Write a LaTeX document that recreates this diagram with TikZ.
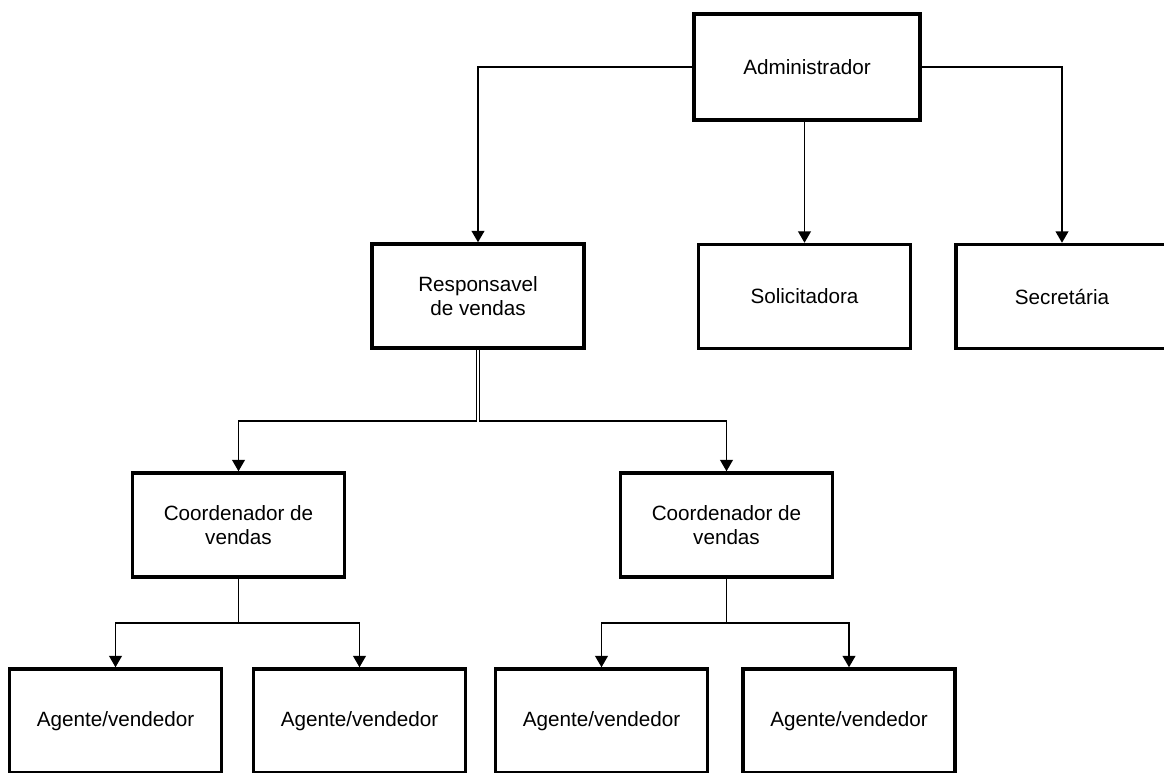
\documentclass[tikz,border=0pt]{standalone}
\usepackage{fontspec}
\setmainfont{Liberation Sans}
\usepackage{tikz}
\usetikzlibrary{arrows.meta}

\begin{document}
\begin{tikzpicture}[x=0.75pt,y=0.75pt,yscale=-1,xscale=1,
  box/.style={draw, line width=2.6pt, rectangle, minimum width=159pt, minimum height=78pt,
    inner sep=0.75pt, align=center, font=\fontsize{15.5pt}{17.5pt}\selectfont},
  link/.style={line width=1.2pt, -{Triangle[length=8.5pt,width=9.5pt]}},
  line/.style={line width=1.2pt}]
%set diagram frame: 1164 x 772
\useasboundingbox (0,0) rectangle (1164,772);
\clip (0,0) rectangle (1164,772);

% Text Node
\draw (807,67) node [box, minimum width=169.5pt, minimum height=79.5pt] (adm) {Administrador};
% Text Node
\draw (478,296) node [box] (resp) {Responsavel\\de vendas};
% Text Node
\draw (804.5,296.5) node [box] (sol) {Solicitadora};
% Text Node
\draw (1062,296.5) node [box] (sec) {Secretária};
% Text Node
\draw (238.5,525) node [box] (crdA) {Coordenador de\\vendas};
% Text Node
\draw (726.5,525) node [box] (crdB) {Coordenador de\\vendas};
% Text Node
\draw (115.5,721) node [box] (agA) {Agente/vendedor};
% Text Node
\draw (359.5,721) node [box] (agB) {Agente/vendedor};
% Text Node
\draw (601.5,721) node [box] (agC) {Agente/vendedor};
% Text Node
\draw (849,721) node [box] (agD) {Agente/vendedor};

%Straight Lines
\coordinate (forkL) at (476.5,421);
\coordinate (forkR) at (479.5,421);
\coordinate (forkA) at (238.5,623);
\coordinate (forkB) at (726.5,623);

%Straight Lines
\draw [link] (adm.west) -| (resp);
\draw [link] (sol.north |- adm.south) -- (sol.north);
\draw [link] (adm.east) -| (sec);
%Straight Lines
\draw [link] (resp.south -| forkL) -- (forkL) -| (crdA);
\draw [link] (resp.south -| forkR) -- (forkR) -| (crdB);
%Straight Lines
\draw [line] (crdA.south) -- (forkA);
\draw [link] (forkA) -| (agA);
\draw [link] (forkA) -| (agB);
%Straight Lines
\draw [line] (crdB.south) -- (forkB);
\draw [link] (forkB) -| (agC);
\draw [link] (forkB) -| (agD);

\end{tikzpicture}
\end{document}
